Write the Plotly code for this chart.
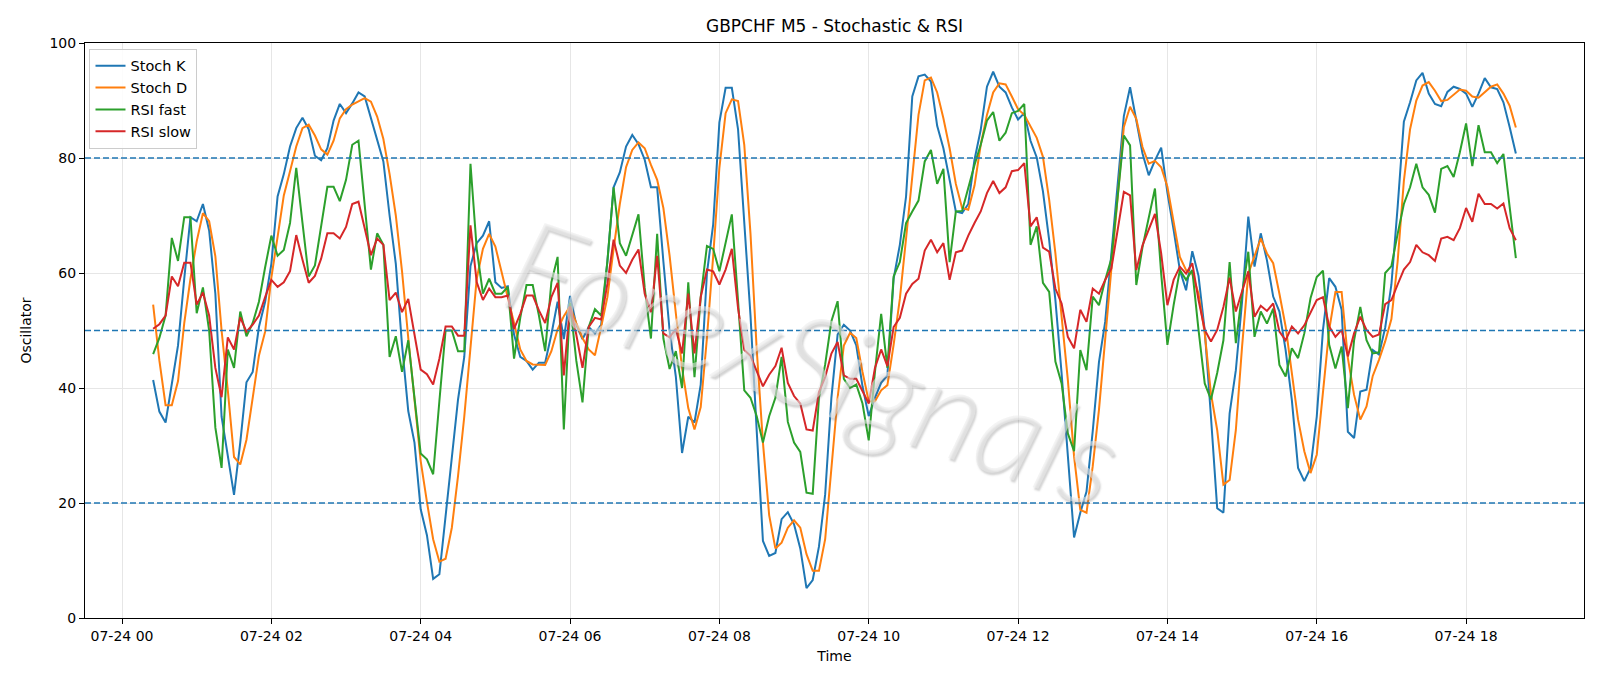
import pandas as pd
import plotly.graph_objects as go

start_time = "2025-07-24 00:25"
n_points = 220

stoch_k = [
    41.4, 35.9, 34.0, 40.9, 47.4, 59.0, 69.7, 69.0, 72.0, 67.4,
    56.4, 35.0, 28.0, 21.4, 30.5, 41.0, 42.8, 50.6, 55.0, 61.6,
    73.3, 77.2, 82.0, 85.2, 87.0, 85.0, 80.4, 79.6, 81.7, 86.5,
    89.4, 87.8, 89.5, 91.4, 90.7, 86.8, 83.3, 79.4, 70.0, 61.6,
    47.4, 36.0, 30.5, 18.9, 14.4, 6.8, 7.6, 17.6, 28.0, 38.0,
    45.4, 61.2, 65.2, 66.5, 69.0, 58.4, 57.4, 57.7, 49.3, 45.4,
    44.7, 43.2, 44.4, 44.4, 49.3, 55.0, 48.5, 56.0, 51.0, 48.5,
    50.6, 49.5, 51.0, 62.0, 74.9, 77.5, 82.0, 84.0, 82.4, 79.7,
    74.9, 74.9, 62.0, 50.0, 42.0, 28.7, 35.0, 34.0, 40.6, 60.0,
    68.4, 86.2, 92.2, 92.2, 85.0, 69.4, 52.6, 32.5, 13.4, 10.8,
    11.3, 17.2, 18.4, 16.3, 12.1, 5.2, 6.6, 12.4, 21.5, 38.3,
    49.3, 51.0, 50.0, 47.4, 40.3, 35.1, 38.3, 40.9, 42.2, 59.0,
    64.9, 73.3, 90.7, 94.2, 94.5, 93.3, 85.6, 81.7, 75.9, 70.7,
    70.4, 72.0, 79.7, 84.9, 92.4, 95.0, 92.4, 91.4, 88.8, 86.7,
    87.8, 83.0, 80.1, 74.2, 65.7, 55.3, 42.5, 29.0, 14.0, 18.3,
    22.0, 32.5, 44.5, 51.5, 63.5, 76.5, 87.3, 92.3, 86.5, 80.8,
    77.0, 79.6, 81.8, 74.0, 67.5, 60.5, 57.0, 63.8, 59.5, 50.0,
    35.0, 19.1, 18.3, 35.6, 43.1, 55.0, 69.8, 61.1, 66.9, 62.2,
    55.9, 53.3, 46.6, 37.9, 26.1, 23.8, 26.1, 35.0, 50.1, 59.1,
    57.6, 53.6, 32.4, 31.3, 39.4, 39.7, 46.6, 45.8, 50.5, 58.0,
    71.5, 86.3, 89.7, 93.5, 94.8, 91.2, 89.4, 89.0, 91.5, 92.4,
    92.0, 91.2, 88.9, 91.2, 93.9, 92.3, 92.0, 89.7, 85.4, 80.8,
]

stoch_d = [
    54.5, 44.8, 37.0, 37.0, 41.2, 51.3, 59.0, 65.5, 70.4, 69.0,
    62.9, 50.0, 39.6, 28.0, 26.7, 31.0, 38.3, 45.6, 49.8, 59.2,
    66.3, 73.5, 77.7, 82.0, 85.2, 85.8, 83.9, 81.5, 80.6, 83.0,
    86.9, 88.5, 89.3, 89.8, 90.4, 89.8, 87.2, 83.3, 77.2, 70.0,
    60.3, 48.7, 38.3, 27.3, 20.2, 13.7, 9.8, 10.3, 15.7, 24.7,
    35.0, 46.7, 59.0, 64.2, 66.8, 64.6, 60.3, 55.8, 51.3, 46.7,
    44.7, 44.1, 44.0, 44.0, 46.4, 50.2, 52.5, 54.2, 51.3, 48.7,
    46.7, 45.7, 50.6, 55.8, 64.2, 72.0, 78.4, 81.4, 82.7, 81.7,
    78.8, 76.2, 71.3, 63.0, 53.0, 43.5, 36.5, 32.8, 36.7, 48.7,
    62.9, 78.3, 87.8, 90.2, 89.9, 82.3, 66.8, 46.7, 30.5, 17.9,
    12.1, 13.1, 15.7, 17.0, 15.7, 11.1, 8.2, 8.2, 13.7, 25.4,
    38.3, 47.4, 49.6, 48.7, 42.8, 37.7, 37.7, 39.6, 40.5, 47.5,
    55.5, 66.0, 77.0, 87.5, 93.5, 94.0, 91.4, 86.9, 81.7, 75.5,
    71.3, 71.0, 75.2, 82.3, 87.5, 91.4, 93.0, 92.8, 90.7, 88.5,
    87.5, 85.5, 83.5, 80.2, 72.7, 63.4, 53.0, 41.4, 28.1, 18.8,
    18.3, 26.4, 36.2, 48.3, 59.9, 73.2, 85.4, 88.9, 86.8, 81.9,
    79.0, 79.5, 78.4, 75.0, 69.2, 62.8, 60.5, 59.9, 56.4, 49.5,
    39.0, 32.7, 23.2, 24.0, 32.7, 47.2, 59.9, 62.8, 66.0, 63.4,
    61.7, 56.4, 50.7, 42.6, 34.5, 29.0, 25.2, 28.4, 39.7, 50.1,
    56.7, 56.7, 45.2, 38.8, 34.5, 36.8, 42.1, 44.9, 48.1, 52.0,
    62.0, 76.0, 85.0, 90.0, 92.6, 93.2, 91.7, 89.9, 90.1, 91.0,
    91.9, 91.7, 90.7, 90.5, 91.5, 92.4, 92.8, 91.2, 89.1, 85.3,
]

rsi_fast = [
    45.9, 48.7, 52.6, 66.1, 62.1, 69.7, 69.7, 53.0, 57.5, 50.0,
    33.1, 26.1, 46.7, 43.5, 53.3, 49.0, 51.3, 55.0, 61.0, 66.5,
    63.0, 64.0, 68.7, 78.3, 68.7, 59.4, 61.3, 68.0, 75.0, 75.0,
    72.5, 76.2, 82.3, 83.0, 72.0, 60.6, 66.9, 64.9, 45.4, 49.0,
    42.8, 48.3, 38.3, 28.6, 27.6, 25.0, 37.7, 50.0, 50.0, 46.4,
    46.4, 79.0, 64.2, 56.4, 59.0, 56.4, 56.4, 57.6, 45.1, 52.2,
    57.9, 57.9, 52.6, 46.4, 58.4, 62.8, 32.8, 54.8, 44.8, 37.5,
    50.6, 53.7, 52.6, 62.0, 74.9, 65.2, 63.0, 66.8, 70.2, 57.4,
    48.6, 66.8, 48.6, 43.3, 46.4, 40.0, 58.4, 41.9, 55.8, 64.7,
    64.2, 60.3, 65.2, 70.2, 55.1, 39.6, 38.3, 35.1, 30.5, 35.1,
    38.3, 45.4, 34.1, 30.5, 28.9, 21.8, 21.6, 38.3, 44.1, 51.6,
    55.1, 41.6, 40.0, 40.6, 37.3, 30.9, 42.8, 52.9, 43.5, 59.4,
    61.9, 68.7, 70.7, 72.6, 79.4, 81.4, 75.5, 78.1, 61.9, 70.7,
    70.8, 74.9, 78.8, 82.3, 86.5, 88.0, 83.0, 84.4, 87.8, 88.2,
    89.4, 64.9, 68.1, 58.3, 56.7, 44.6, 40.8, 32.1, 29.0, 46.6,
    43.1, 55.9, 54.4, 58.8, 62.5, 73.2, 83.9, 82.2, 57.9, 64.5,
    69.8, 74.7, 59.9, 47.5, 54.4, 60.5, 58.8, 60.5, 50.1, 40.8,
    38.0, 42.6, 48.3, 61.9, 47.8, 56.4, 63.7, 48.9, 53.3, 51.2,
    53.8, 44.0, 42.0, 46.9, 45.2, 49.5, 55.6, 59.3, 60.4, 47.5,
    43.4, 47.2, 36.5, 48.3, 54.1, 48.3, 46.0, 46.2, 60.0, 61.2,
    66.8, 72.0, 74.9, 79.0, 74.9, 73.6, 70.5, 78.1, 78.6, 76.7,
    81.0, 86.0, 78.6, 85.7, 81.0, 81.0, 79.1, 80.7, 71.5, 62.6,
]

rsi_slow = [
    50.3, 51.1, 52.6, 59.4, 57.7, 61.8, 61.8, 54.5, 56.6, 52.6,
    43.5, 38.4, 48.8, 46.7, 52.3, 49.8, 51.0, 52.6, 55.8, 58.8,
    57.6, 58.4, 60.3, 66.6, 62.3, 58.3, 59.5, 62.5, 66.9, 66.9,
    66.0, 68.0, 72.0, 72.4, 67.8, 63.1, 66.0, 64.9, 55.3, 56.6,
    53.2, 55.5, 49.3, 43.2, 42.4, 40.6, 45.1, 50.7, 50.7, 49.1,
    49.1, 68.3, 58.4, 55.3, 57.3, 55.8, 55.8, 56.1, 50.3, 52.9,
    56.1, 56.1, 53.5, 51.3, 55.8, 58.3, 42.2, 54.2, 49.3, 43.5,
    50.6, 52.2, 51.9, 58.1, 65.8, 61.3, 60.0, 62.3, 64.1, 56.4,
    53.2, 63.0, 49.5, 48.8, 50.3, 46.0, 56.4, 46.0, 55.8, 60.6,
    60.3, 58.0, 60.6, 64.2, 53.9, 46.6, 45.6, 42.8, 40.3, 42.3,
    43.8, 47.0, 40.9, 38.6, 37.3, 32.8, 32.6, 39.3, 41.9, 46.0,
    48.0, 42.2, 41.6, 41.6, 39.3, 37.3, 43.5, 46.7, 43.8, 50.6,
    52.2, 56.4, 58.1, 59.0, 63.9, 65.8, 63.6, 65.2, 58.8, 63.6,
    63.9, 66.5, 68.7, 70.7, 73.9, 76.0, 73.9, 74.9, 77.7, 77.9,
    79.1, 68.1, 69.7, 64.4, 63.7, 57.3, 54.7, 48.9, 46.9, 53.6,
    51.5, 57.3, 56.4, 58.8, 60.8, 67.4, 74.1, 73.5, 60.5, 64.8,
    67.7, 70.3, 63.4, 54.4, 58.8, 61.1, 59.9, 61.7, 55.3, 50.1,
    48.1, 50.1, 54.1, 59.2, 53.3, 57.0, 60.3, 52.4, 54.3, 53.4,
    54.7, 49.8, 48.3, 50.7, 49.5, 50.9, 53.0, 55.3, 55.8, 50.7,
    48.9, 50.1, 45.5, 49.5, 52.4, 50.1, 48.9, 49.3, 54.6, 55.3,
    58.0, 60.6, 61.9, 64.9, 63.6, 63.1, 62.1, 66.0, 66.3, 65.7,
    67.8, 71.3, 68.9, 73.8, 72.0, 72.0, 71.2, 72.1, 67.8, 65.7,
]

series_names = ["Stoch K", "Stoch D", "RSI fast", "RSI slow"]
series_colors = ["#1f77b4", "#ff7f0e", "#2ca02c", "#d62728"]
level_lines = [20, 50, 80]
y_ticks = [0, 20, 40, 60, 80, 100]
title_text = "GBPCHF M5 - Stochastic & RSI"
watermark_text = "ForexSignals"

times = pd.date_range(start_time, periods=n_points, freq="5min")
span = times[-1] - times[0]
x_range = [times[0] - span * 0.05, times[-1] + span * 0.05]

font_family = "DejaVu Sans, Verdana, sans-serif"

fig = go.Figure()
for name, color, vals in zip(series_names, series_colors, [stoch_k, stoch_d, rsi_fast, rsi_slow]):
    fig.add_trace(go.Scatter(x=times, y=vals, mode="lines", name=name,
                             line=dict(color=color, width=2)))

for lv in level_lines:
    fig.add_shape(type="line", xref="paper", x0=0, x1=1, yref="y", y0=lv, y1=lv,
                  line=dict(color="#1f77b4", width=1.4, dash="6px,3px"), layer="above")

fig.add_annotation(text=watermark_text, xref="paper", yref="paper", x=0.487, y=0.45,
                   showarrow=False, textangle=19,
                   font=dict(family="Lato, DejaVu Sans, sans-serif", size=128,
                             color="rgba(235,235,235,0.55)", weight=300,
                             style="italic", shadow="2px 2px 2px rgba(110,110,110,0.55)"))

fig.update_layout(
    width=1600, height=686,
    margin=dict(l=85, r=16, t=43, b=68),
    paper_bgcolor="white", plot_bgcolor="white",
    font=dict(family=font_family, size=14, color="black"),
    title=dict(text=title_text, x=0.5, xref="paper", y=1 - 26 / 686, yref="container",
               xanchor="center", yanchor="middle", font=dict(size=17, color="black")),
    legend=dict(x=0.003, y=0.99, xanchor="left", yanchor="top",
                bgcolor="rgba(255,255,255,0.85)", bordercolor="#cccccc", borderwidth=1,
                font=dict(size=14.5), tracegroupgap=0),
    showlegend=True,
)

fig.update_xaxes(
    range=x_range, type="date", tickformat="%m-%d %H", dtick=2 * 3600 * 1000,
    tick0="2025-07-24 00:00",
    showgrid=True, gridcolor="#e6e6e6", gridwidth=1,
    showline=True, linecolor="black", linewidth=1, mirror=True,
    ticks="outside", ticklen=5, tickwidth=1, tickcolor="black",
    tickfont=dict(size=14), zeroline=False,
    title=dict(text="Time", font=dict(size=14), standoff=8),
)
fig.update_yaxes(
    range=[0, 100], tickvals=y_ticks,
    showgrid=True, gridcolor="#e6e6e6", gridwidth=1,
    showline=True, linecolor="black", linewidth=1, mirror=True,
    ticks="outside", ticklen=5, tickwidth=1, tickcolor="black",
    tickfont=dict(size=14), zeroline=False,
    title=dict(text="Oscillator", font=dict(size=14), standoff=14),
)

fig.write_html("out.html")
